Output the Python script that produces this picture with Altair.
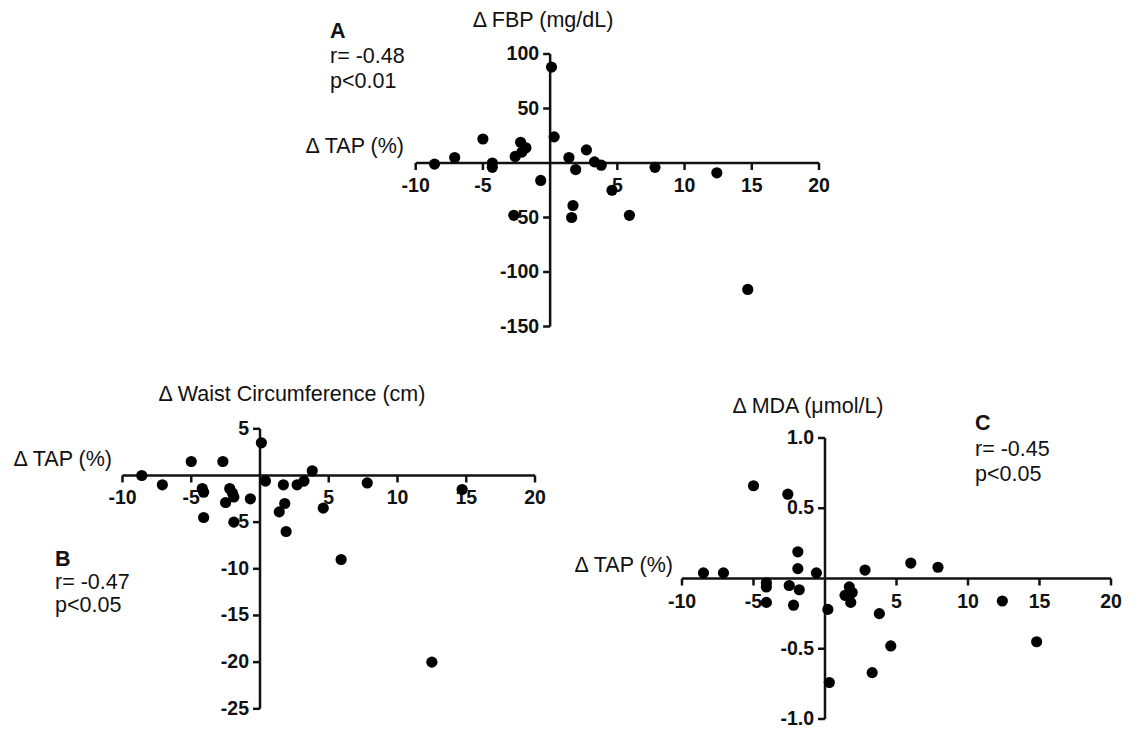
import altair as alt
import pandas as pd

# ---------------- data ----------------
A_x = [-8.6, -7.1, -5.0, -4.3, -4.3, -2.6, -2.2, -1.8, -2.1, -2.7, -0.7, 0.1, 0.3,
       1.4, 1.9, 1.7, 1.6, 2.7, 3.3, 3.8, 4.6, 5.9, 7.8, 12.4, 14.7]
A_y = [-1, 5, 22, 0, -4, 6, 19, 14, 10, -48, -16, 88, 24,
       5, -6, -39, -50, 12, 1, -2, -25, -48, -4, -9, -116]

B_x = [-8.6, -7.1, -5.0, -4.2, -4.1, -4.1, -2.7, -2.5, -2.2, -2.0, -1.9, -1.9, -0.7, 0.1,
       0.4, 1.7, 1.8, 1.4, 1.9, 2.7, 3.2, 3.8, 4.6, 5.9, 7.8, 12.5, 14.7]
B_y = [0, -1, 1.5, -1.4, -1.8, -4.5, 1.5, -2.9, -1.4, -1.9, -2.3, -5, -2.5, 3.5,
       -0.6, -1.0, -3.0, -3.9, -6.0, -1.0, -0.6, 0.5, -3.5, -9, -0.8, -20, -1.5]

C_x = [-8.5, -7.1, -5.0, -4.1, -4.1, -4.1, -2.6, -2.5, -2.2, -1.9, -1.9, -1.8, -0.6, 0.2,
       0.3, 1.7, 1.4, 1.9, 1.8, 2.8, 3.3, 3.8, 4.6, 6.0, 7.9, 12.4, 14.8]
C_y = [0.04, 0.04, 0.66, -0.03, -0.06, -0.17, 0.60, -0.05, -0.19, 0.19, 0.07, -0.08, 0.04, -0.22,
       -0.74, -0.06, -0.12, -0.10, -0.17, 0.06, -0.67, -0.25, -0.48, 0.11, 0.08, -0.16, -0.45]

x_ticks = [-10, -5, 5, 10, 15, 20]
x_tick_labels = ["-10", "-5", "5", "10", "15", "20"]
A_y_ticks = [100, 50, -50, -100, -150]
A_y_labels = ["100", "50", "-50", "-100", "-150"]
B_y_ticks = [5, -5, -10, -15, -20, -25]
B_y_labels = ["5", "-5", "-10", "-15", "-20", "-25"]
C_y_ticks = [1.0, 0.5, -0.5, -1.0]
C_y_labels = ["1.0", "0.5", "-0.5", "-1.0"]

# ---------------- layout ----------------
W, H = 1119, 720
OFF = 8  # page margin
FONT = "Liberation Sans"
INK = "#111111"
TEXT_SIZE = 21.5
TICK_SIZE = 19.5


def lin_domain(v0, p0, v1, p1, total):
    p0 -= OFF
    p1 -= OFF
    k = (v1 - v0) / (p1 - p0)
    a = v0 + (0 - p0) * k
    b = v0 + (total - p0) * k
    return [min(a, b), max(a, b)]


def panel(xs, ys, xanchor, yanchor, yticks, ylabels):
    xdom = lin_domain(-10, xanchor[0], 20, xanchor[1], W)
    ydom = lin_domain(yticks[0], yanchor[0], yticks[-1], yanchor[1], H)

    def X(f):
        return alt.X(f, type="quantitative",
                     scale=alt.Scale(domain=xdom, nice=False, zero=False), axis=None)

    def Y(f):
        return alt.Y(f, type="quantitative",
                     scale=alt.Scale(domain=ydom, nice=False, zero=False), axis=None)

    pts = alt.Chart(pd.DataFrame({"x": xs, "y": ys})).mark_circle(
        size=125, color="black", opacity=1).encode(x=X("x"), y=Y("y"))

    axes_df = pd.DataFrame({"x": [-10, 0], "x2": [20, 0],
                            "y": [0, yticks[-1]], "y2": [0, yticks[0]]})
    axes = alt.Chart(axes_df).mark_rule(strokeWidth=2.5, color=INK).encode(
        x=X("x"), x2="x2", y=Y("y"), y2="y2")

    xt_df = pd.DataFrame({"t": x_ticks, "lab": x_tick_labels, "zero": 0})
    xt = alt.Chart(xt_df).mark_tick(orient="vertical", size=7, thickness=2.5,
                                    yOffset=3.5, color=INK, opacity=1).encode(
        x=X("t"), y=Y("zero"))
    xl = alt.Chart(xt_df).mark_text(dy=23, fontSize=TICK_SIZE, fontWeight="bold",
                                    font=FONT, color=INK).encode(
        x=X("t"), y=Y("zero"), text="lab")

    yt_df = pd.DataFrame({"t": yticks, "lab": ylabels, "zero": 0})
    yt = alt.Chart(yt_df).mark_tick(orient="horizontal", size=7, thickness=2.5,
                                    xOffset=-3.5, color=INK, opacity=1).encode(
        x=X("zero"), y=Y("t"))
    yl = alt.Chart(yt_df).mark_text(dx=-11, align="right", baseline="middle",
                                    fontSize=TICK_SIZE, fontWeight="bold", font=FONT,
                                    color=INK).encode(
        x=X("zero"), y=Y("t"), text="lab")

    return alt.layer(axes, xt, yt, xl, yl, pts)


pA = panel(A_x, A_y, (415.7, 819), (54, 326.5), A_y_ticks, A_y_labels)
pB = panel(B_x, B_y, (122.5, 535), (428.8, 708.8), B_y_ticks, B_y_labels)
pC = panel(C_x, C_y, (682, 1111), (438, 719), C_y_ticks, C_y_labels)

# annotations: (text, page x, page y, align, weight)
annotations = [
    ("\u0394 FBP (mg/dL)", 543, 21, "center", "normal"),
    ("\u0394 TAP (%)", 404, 147, "right", "normal"),
    ("A", 330, 32, "left", "bold"),
    ("r= -0.48", 330, 57, "left", "normal"),
    ("p<0.01", 330, 82, "left", "normal"),
    ("\u0394 Waist Circumference (cm)", 292, 395, "center", "normal"),
    ("\u0394 TAP (%)", 112, 460, "right", "normal"),
    ("B", 55, 560, "left", "bold"),
    ("r= -0.47", 55, 583, "left", "normal"),
    ("p<0.05", 55, 606, "left", "normal"),
    ("\u0394 MDA (\u03bcmol/L)", 808, 407, "center", "normal"),
    ("\u0394 TAP (%)", 673, 566, "right", "normal"),
    ("C", 975, 424, "left", "bold"),
    ("r= -0.45", 975, 450, "left", "normal"),
    ("p<0.05", 975, 475, "left", "normal"),
]

anno_layers = []
for txt, px, py, al, wt in annotations:
    anno_layers.append(
        alt.Chart(pd.DataFrame({"t": [txt]})).mark_text(
            align=al, baseline="middle", fontSize=TEXT_SIZE, fontWeight=wt,
            font=FONT, color=INK).encode(
            x=alt.value(px - OFF), y=alt.value(py - OFF), text="t")
    )

chart = alt.layer(pA, pB, pC, *anno_layers).resolve_scale(
    x="independent", y="independent"
).properties(
    width=W, height=H, padding=0,
    autosize=alt.AutoSizeParams(type="none"),
).configure_view(stroke=None)

chart.save("out.html", embed_options={"renderer": "svg", "actions": False})
